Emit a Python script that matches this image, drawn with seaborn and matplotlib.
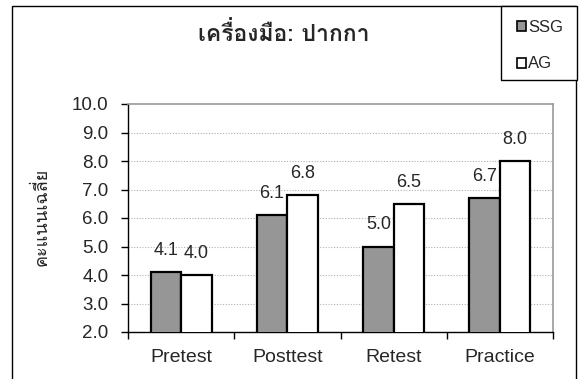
import matplotlib
matplotlib.use("Agg")
import matplotlib.pyplot as plt
from matplotlib import font_manager
from matplotlib.ft2font import FT2Font
from matplotlib.patches import Rectangle, Patch
import pandas as pd
import seaborn as sns

# Scores per phase for the two groups
phases = ["Pretest", "Posttest", "Retest", "Practice"]
groups = ["SSG", "AG"]
ssg_scores = [4.1, 6.1, 5.0, 6.7]
ag_scores = [4.0, 6.8, 6.5, 8.0]
y_ticks = [2.0, 3.0, 4.0, 5.0, 6.0, 7.0, 8.0, 9.0, 10.0]
title_text = "เครื่องมือ: ปากกา"
ylabel_text = "คะแนนเฉลี่ย"

sns.set_theme(style="white")


def find_font_with(char):
    """Return the family name of an installed font that covers `char`,
    preferring regular-weight faces."""
    code = ord(char)
    hits = []
    for entry in font_manager.fontManager.ttflist:
        try:
            if code in FT2Font(entry.fname).get_charmap():
                hits.append(entry)
        except Exception:
            continue
    if not hits:
        return None
    hits.sort(key=lambda e: (abs((e.weight if isinstance(e.weight, int) else 400) - 400),
                             e.style != "normal"))
    return hits[0].name


thai_family = find_font_with("ค")
latin = "Liberation Sans"
families = [latin] + ([thai_family] if thai_family else []) + ["DejaVu Sans"]
thai_first = ([thai_family] if thai_family else []) + [latin, "DejaVu Sans"]
plt.rcParams["font.family"] = families

df = pd.DataFrame({
    "phase": phases * 2,
    "group": [groups[0]] * len(phases) + [groups[1]] * len(phases),
    "score": ssg_scores + ag_scores,
})

W, H = 580, 379
fig = plt.figure(figsize=(W / 100, H / 100), dpi=100)
fig.patch.set_facecolor("white")

# outer chart frame
fig.add_artist(Rectangle((12 / W, -0.05), (576 - 12) / W, 1.05 - 6 / H,
                         transform=fig.transFigure, fill=False,
                         edgecolor="black", linewidth=1.0))

ax = fig.add_axes([128 / W, 1 - 332 / H, (553 - 128) / W, (332 - 104) / H])
gray = "#969696"
sns.barplot(data=df, x="phase", y="score", hue="group",
            palette=[gray, "white"], edgecolor="black", linewidth=1.6,
            width=0.576, gap=0, legend=False, ax=ax, zorder=3)

ax.set_ylim(2.0, 10.0)
ax.set_xlim(-0.5, len(phases) - 0.5)
ax.set_yticks(y_ticks)
ax.set_yticklabels([f"{v:.1f}" for v in y_ticks], fontsize=13.5)
ax.set_xticks([i - 0.5 for i in range(len(phases) + 1)], minor=False)
ax.set_xticklabels([])
ax.set_xticks(range(len(phases)), minor=True)
ax.set_xticklabels(phases, minor=True, fontsize=14)
ax.tick_params(axis="x", which="major", direction="out", length=5, width=1,
               color="black", bottom=True)
ax.tick_params(axis="x", which="minor", length=0, pad=12)
ax.tick_params(axis="y", direction="out", length=5, width=1, color="black",
               left=True, pad=9)
ax.set_xlabel("")
ax.set_ylabel("")

for v in y_ticks[1:-1]:
    ax.axhline(v, color="#b0b0b0", linestyle=(0, (1, 1.5)), linewidth=0.8,
               zorder=1)

for side in ("left", "bottom"):
    ax.spines[side].set_color("black")
    ax.spines[side].set_linewidth(1.0)
for side in ("top", "right"):
    ax.spines[side].set_color("#9a9a9a")
    ax.spines[side].set_linewidth(1.2)

for container in ax.containers:
    ax.bar_label(container, fmt="%.1f", padding=9.5, fontsize=13)

fig.text(284 / W, 1 - 33 / H, title_text, ha="center", va="center",
         fontsize=16.5, fontweight="bold", family=thai_first)
fig.text(42 / W, 1 - 217 / H, ylabel_text, ha="center", va="center",
         rotation=90, fontsize=13, fontweight="light", family=thai_first)

# legend box with its own frame
fig.add_artist(Rectangle((501 / W, 1 - 80 / H), (577 - 501) / W, 74 / H,
                         transform=fig.transFigure, fill=True,
                         facecolor="white", edgecolor="black", linewidth=1.0,
                         zorder=5))
handles = [Patch(facecolor=gray, edgecolor="black", linewidth=1.2),
           Patch(facecolor="white", edgecolor="black", linewidth=1.2)]
leg = fig.legend(handles, groups, loc="upper left",
                 bbox_to_anchor=(503 / W, 1 - 6 / H), frameon=False,
                 fontsize=12, handlelength=0.55, handleheight=0.55,
                 handletextpad=0.1, labelspacing=1.28, borderpad=0.85,
                 borderaxespad=0)
leg.set_zorder(6)

fig.savefig("out.png", dpi=100, facecolor="white")
